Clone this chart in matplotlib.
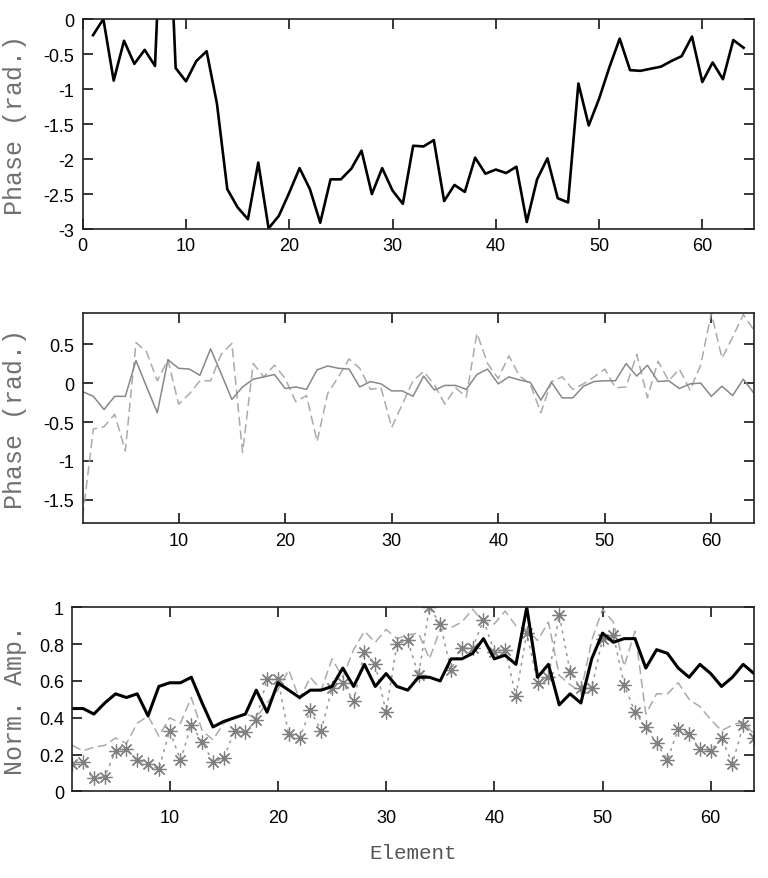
import matplotlib
matplotlib.use("Agg")
import matplotlib.pyplot as plt
import numpy as np

# element index, 1..64
elements = list(range(1, 65))

# top panel: phase (rad.)
phase_top = [-0.23, 0.0, -0.88, -0.31, -0.64, -0.44, -0.67, 2.8, -0.70, -0.89,
             -0.60, -0.46, -1.21, -2.43, -2.69, -2.86, -2.05, -2.99, -2.81, -2.48,
             -2.13, -2.43, -2.91, -2.29, -2.29, -2.14, -1.88, -2.50, -2.13, -2.45,
             -2.64, -1.81, -1.82, -1.73, -2.60, -2.37, -2.47, -1.98, -2.21, -2.15,
             -2.20, -2.11, -2.90, -2.29, -1.99, -2.56, -2.62, -0.92, -1.52, -1.14,
             -0.69, -0.28, -0.73, -0.74, -0.71, -0.68, -0.60, -0.53, -0.25, -0.90,
             -0.62, -0.86, -0.30, -0.41]

# middle panel: residual phase, two series
phase_solid = [-0.11, -0.17, -0.34, -0.17, -0.17, 0.29, -0.05, -0.38, 0.30, 0.19,
               0.18, 0.10, 0.44, 0.12, -0.21, -0.05, 0.05, 0.08, 0.11, -0.07,
               -0.05, -0.08, 0.17, 0.22, 0.19, 0.18, -0.05, 0.02, -0.01, -0.10,
               -0.10, -0.17, 0.09, -0.09, -0.03, -0.03, -0.08, 0.11, 0.18, -0.01,
               0.08, 0.04, 0.01, -0.22, 0.01, -0.19, -0.19, -0.04, 0.02, 0.03,
               0.03, 0.25, 0.09, 0.23, 0.02, 0.03, -0.07, -0.01, 0.00, -0.17,
               -0.04, -0.16, 0.05, -0.13]
phase_dashed = [-1.71, -0.59, -0.56, -0.40, -0.87, 0.52, 0.40, 0.03, 0.30, -0.27,
                -0.14, 0.03, 0.03, 0.37, 0.51, -0.89, 0.25, 0.08, 0.23, 0.06,
                -0.24, -0.16, -0.75, -0.13, 0.08, 0.31, 0.19, -0.08, -0.06, -0.57,
                -0.27, 0.03, 0.15, -0.02, -0.27, -0.06, -0.18, 0.64, 0.25, 0.06,
                0.35, 0.09, -0.01, -0.38, 0.02, 0.08, -0.08, -0.01, 0.08, 0.18,
                -0.06, -0.05, 0.37, -0.19, 0.28, 0.03, 0.18, -0.09, 0.23, 0.90,
                0.32, 0.59, 0.88, 0.68]

# bottom panel: normalised amplitude
amp_thick = [0.45, 0.45, 0.42, 0.48, 0.53, 0.51, 0.53, 0.41, 0.57, 0.59,
             0.59, 0.62, 0.48, 0.35, 0.38, 0.40, 0.42, 0.55, 0.43, 0.59,
             0.55, 0.51, 0.55, 0.55, 0.57, 0.67, 0.57, 0.69, 0.57, 0.64,
             0.57, 0.55, 0.62, 0.62, 0.60, 0.72, 0.72, 0.75, 0.83, 0.72,
             0.74, 0.69, 1.00, 0.62, 0.69, 0.47, 0.53, 0.48, 0.72, 0.86,
             0.81, 0.83, 0.83, 0.67, 0.77, 0.75, 0.67, 0.62, 0.69, 0.64,
             0.57, 0.62, 0.69, 0.64]
amp_dashed = [0.25, 0.22, 0.24, 0.25, 0.29, 0.26, 0.37, 0.41, 0.30, 0.40,
              0.37, 0.51, 0.33, 0.28, 0.37, 0.40, 0.42, 0.40, 0.48, 0.55,
              0.66, 0.50, 0.62, 0.55, 0.72, 0.62, 0.77, 0.87, 0.81, 0.88,
              0.83, 0.85, 0.86, 0.72, 0.88, 0.89, 0.92, 0.99, 0.92, 0.91,
              0.98, 0.90, 0.88, 0.82, 0.92, 0.63, 0.58, 0.54, 0.82, 0.99,
              0.92, 0.68, 0.87, 0.42, 0.53, 0.53, 0.59, 0.50, 0.46, 0.39,
              0.33, 0.36, 0.38, 0.31]
amp_star = [0.15, 0.16, 0.07, 0.08, 0.22, 0.23, 0.17, 0.15, 0.12, 0.33,
            0.17, 0.36, 0.27, 0.16, 0.18, 0.33, 0.32, 0.39, 0.61, 0.61,
            0.31, 0.29, 0.44, 0.33, 0.56, 0.59, 0.49, 0.76, 0.69, 0.43,
            0.80, 0.82, 0.63, 1.00, 0.91, 0.66, 0.78, 0.78, 0.93, 0.76,
            0.77, 0.52, 0.86, 0.59, 0.62, 0.96, 0.65, 0.56, 0.56, 0.83,
            0.85, 0.58, 0.43, 0.35, 0.26, 0.17, 0.34, 0.31, 0.23, 0.22,
            0.29, 0.15, 0.36, 0.29]

tick_font = "Liberation Sans"
label_font = "Liberation Mono"

fig = plt.figure(figsize=(7.68, 8.79), dpi=100)
ax1 = fig.add_axes([0.1077, 0.7383, 0.874, 0.2389])
ax2 = fig.add_axes([0.1077, 0.4035, 0.874, 0.2393])
ax3 = fig.add_axes([0.0941, 0.0986, 0.8877, 0.2093])


def style(ax, xpad=6):
    ax.tick_params(direction="in", length=7, width=1.1, top=True, right=True,
                   labelsize=13, pad=6, colors="black")
    ax.tick_params(axis="x", pad=xpad)
    for lab in ax.get_xticklabels() + ax.get_yticklabels():
        lab.set_fontfamily(tick_font)
    for s in ax.spines.values():
        s.set_linewidth(1.2)
        s.set_color("#222222")


# top
ax1.plot(elements, phase_top, color="black", lw=1.9)
ax1.set_xlim(0, 65)
ax1.set_ylim(-3, 0)
ax1.set_xticks(range(0, 61, 10))
ax1.set_yticks([0, -0.5, -1, -1.5, -2, -2.5, -3])
ax1.set_yticklabels(["0", "-0.5", "-1", "-1.5", "-2", "-2.5", "-3"])
ax1.set_ylabel("Phase (rad.)", fontfamily=label_font, fontsize=18,
               color="#707070")
style(ax1)

# middle
ax2.plot(elements, phase_dashed, color="#aaaaaa", lw=1.1, dashes=(6, 3))
ax2.plot(elements, phase_solid, color="#888888", lw=1.1)
ax2.set_xlim(1, 64)
ax2.set_ylim(-1.8, 0.9)
ax2.set_xticks(range(10, 61, 10))
ax2.set_yticks([0.5, 0, -0.5, -1, -1.5])
ax2.set_yticklabels(["0.5", "0", "-0.5", "-1", "-1.5"])
ax2.set_ylabel("Phase (rad.)", fontfamily=label_font, fontsize=18,
               color="#707070")
style(ax2)

# bottom
ax3.plot(elements, amp_dashed, color="#aaaaaa", lw=1.1, dashes=(6, 3))
ax3.plot(elements, amp_star, color="#999999", lw=1.1, dashes=(2, 3),
         marker=(8, 2, 0), markersize=10, markeredgecolor="#808080",
         markeredgewidth=0.9)
ax3.plot(elements, amp_thick, color="black", lw=2.2)
ax3.set_xlim(1, 64)
ax3.set_ylim(0, 1)
ax3.set_xticks(range(10, 61, 10))
ax3.set_yticks([0, 0.2, 0.4, 0.6, 0.8, 1])
ax3.set_yticklabels(["0", "0.2", "0.4", "0.6", "0.8", "1"])
ax3.set_ylabel("Norm. Amp.", fontfamily=label_font, fontsize=18,
               color="#707070")
ax3.set_xlabel("Element", fontfamily=label_font, fontsize=15, color="#555555",
               labelpad=12)
style(ax3, xpad=13)

ax1.yaxis.set_label_coords(-0.083, 0.5)
ax2.yaxis.set_label_coords(-0.083, 0.5)
ax3.yaxis.set_label_coords(-0.067, 0.5)

fig.savefig("out.png", dpi=100)
